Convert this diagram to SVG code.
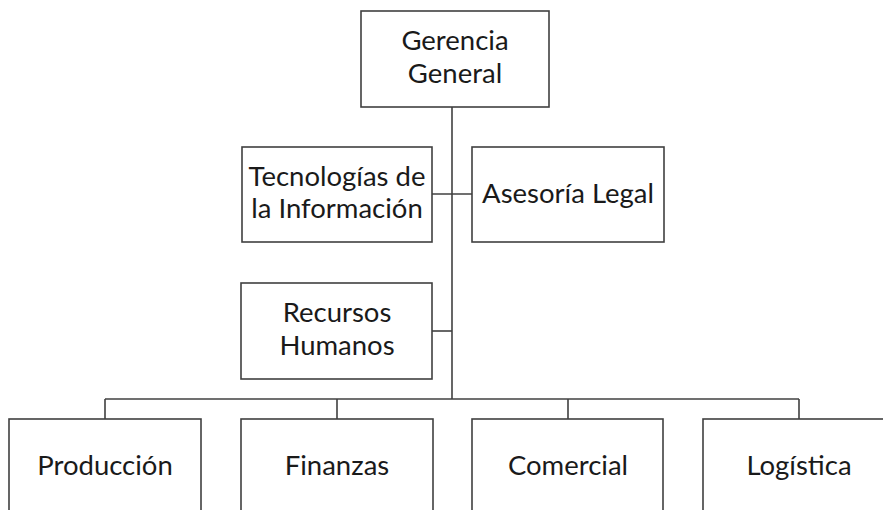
<svg xmlns="http://www.w3.org/2000/svg" width="883" height="510" viewBox="0 0 883 510">
<style>
.box{fill:#fff;stroke:#404040;stroke-width:1.6}
.t{font-family:Lato,"Liberation Sans",sans-serif;font-size:27.5px;fill:#1a1a1a;text-anchor:middle}
.c{fill:none;stroke:#404040;stroke-width:1.6}
</style>
<rect width="883" height="510" fill="#fff"/>
<g id="connectors">
<path class="c" d="M452,107 V399"/>
<path class="c" d="M432,194 H472"/>
<path class="c" d="M432,331 H452"/>
<path class="c" d="M105,399 H799"/>
<path class="c" d="M105,399 V419 M337,399 V419 M568,399 V419 M799,399 V419"/>
</g>
<g id="gerencia"><rect class="box" x="361" y="11" width="188" height="96"/><text class="t" x="455" y="50">Gerencia</text><text class="t" x="455" y="83">General</text></g>
<g id="ti"><rect class="box" x="242" y="147" width="190" height="95"/><text class="t" x="337" y="186">Tecnologías de</text><text class="t" x="337" y="218">la Información</text></g>
<g id="legal"><rect class="box" x="472" y="147" width="192" height="95"/><text class="t" x="568" y="203">Asesoría Legal</text></g>
<g id="rrhh"><rect class="box" x="241" y="283" width="191" height="96"/><text class="t" x="337" y="322">Recursos</text><text class="t" x="337" y="355">Humanos</text></g>
<g id="produccion"><rect class="box" x="9" y="419" width="192" height="110"/><text class="t" x="105" y="475">Producción</text></g>
<g id="finanzas"><rect class="box" x="241" y="419" width="192" height="110"/><text class="t" x="337" y="475">Finanzas</text></g>
<g id="comercial"><rect class="box" x="472" y="419" width="191" height="110"/><text class="t" x="568" y="475">Comercial</text></g>
<g id="logistica"><rect class="box" x="703" y="419" width="192" height="110"/><text class="t" x="799" y="475">Logística</text></g>
</svg>
